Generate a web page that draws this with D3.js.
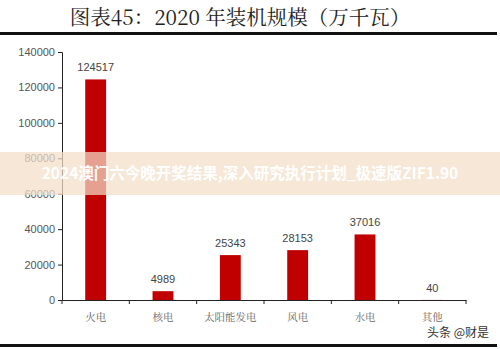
<!DOCTYPE html>
<html><head><meta charset="utf-8">
<script src="https://cdn.jsdelivr.net/npm/d3@7"></script>
<style>body{margin:0;background:#fff}svg{display:block}</style>
</head><body>
<svg id="c" width="500" height="349"></svg>
<script>
const categories = ["火电","核电","太阳能发电","风电","水电","其他"];
const values = [124517, 4989, 25343, 28153, 37016, 40];
const yTicks = [0,20000,40000,60000,80000,100000,120000,140000];
const title = "图表45：2020 年装机规模（万千瓦）";

const svg = d3.select("#c");
const W = 500, H = 349;
const m = {left:62, right:34, top:52, bottom:49};
const x = d3.scaleBand().domain(categories).range([m.left, W - m.right]).paddingInner(0.69).paddingOuter(0.345);
const y = d3.scaleLinear().domain([0,140000]).range([H - m.bottom, m.top]);

svg.append("text").attr("x", 240).attr("y", 25).attr("text-anchor","middle")
  .attr("font-family","'Noto Serif CJK SC','Noto Sans CJK SC',serif").attr("font-size",20.5).attr("fill","#222")
  .text(title);
svg.append("rect").attr("x",0).attr("y",32).attr("width",497).attr("height",3).attr("fill","#111");

const ya = svg.append("g").attr("transform",`translate(${m.left},0)`)
  .call(d3.axisLeft(y).tickValues(yTicks).tickSize(4).tickFormat(d3.format("d")));
ya.selectAll("text").attr("font-family","'Liberation Sans',Arial,sans-serif").attr("font-size",11).attr("fill","#555");
ya.selectAll("line,path").attr("stroke","#222");

const xa = svg.append("g").attr("transform",`translate(0,${H - m.bottom})`)
  .call(d3.axisBottom(x.copy().paddingInner(0).paddingOuter(0)).tickSize(0).tickFormat(""));
xa.select("path").attr("stroke","#222");
const bw = (W - m.right - m.left)/categories.length;
svg.append("g").selectAll("line").data(d3.range(categories.length+1)).join("line")
  .attr("x1", i => m.left + i*bw).attr("x2", i => m.left + i*bw)
  .attr("y1", H - m.bottom).attr("y2", H - m.bottom + 4).attr("stroke","#222");

svg.append("g").selectAll("rect").data(values).join("rect")
  .attr("x",(d,i)=>x(categories[i])).attr("width",x.bandwidth())
  .attr("y",d=>y(d)).attr("height",d=>y(0)-y(d)).attr("fill","#c00000");

svg.append("g").selectAll("text").data(values).join("text")
  .attr("x",(d,i)=>x(categories[i])+x.bandwidth()/2).attr("y",d=>y(d)-8)
  .attr("text-anchor","middle").attr("font-family","'Liberation Sans',Arial,sans-serif")
  .attr("font-size",11).attr("fill","#444").text(d=>d);

svg.append("g").selectAll("text").data(categories).join("text")
  .attr("x",d=>x(d)+x.bandwidth()/2).attr("y",H - m.bottom + 21)
  .attr("text-anchor","middle").attr("font-family","'Noto Serif CJK SC','Noto Sans CJK SC',serif")
  .attr("font-size",10.5).attr("fill","#666").text(d=>d);

svg.append("rect").attr("x",0).attr("y",344).attr("width",497).attr("height",3).attr("fill","#111");
svg.append("text").attr("x",489).attr("y",337).attr("text-anchor","end")
  .attr("font-family","'Noto Sans CJK SC',sans-serif").attr("font-size",12).attr("fill","#333").text("头条 @财是");

svg.append("rect").attr("x",0).attr("y",152).attr("width",W).attr("height",43).attr("fill","rgba(242,222,200,0.72)");
svg.append("text").attr("x",250).attr("y",179).attr("text-anchor","middle")
  .attr("font-family","'Noto Sans CJK SC',sans-serif").attr("font-weight","bold").attr("font-size",15.5).attr("fill","#fff")
  .text("2024澳门六今晚开奖结果,深入研究执行计划_极速版ZIF1.90");
</script>
</body></html>
